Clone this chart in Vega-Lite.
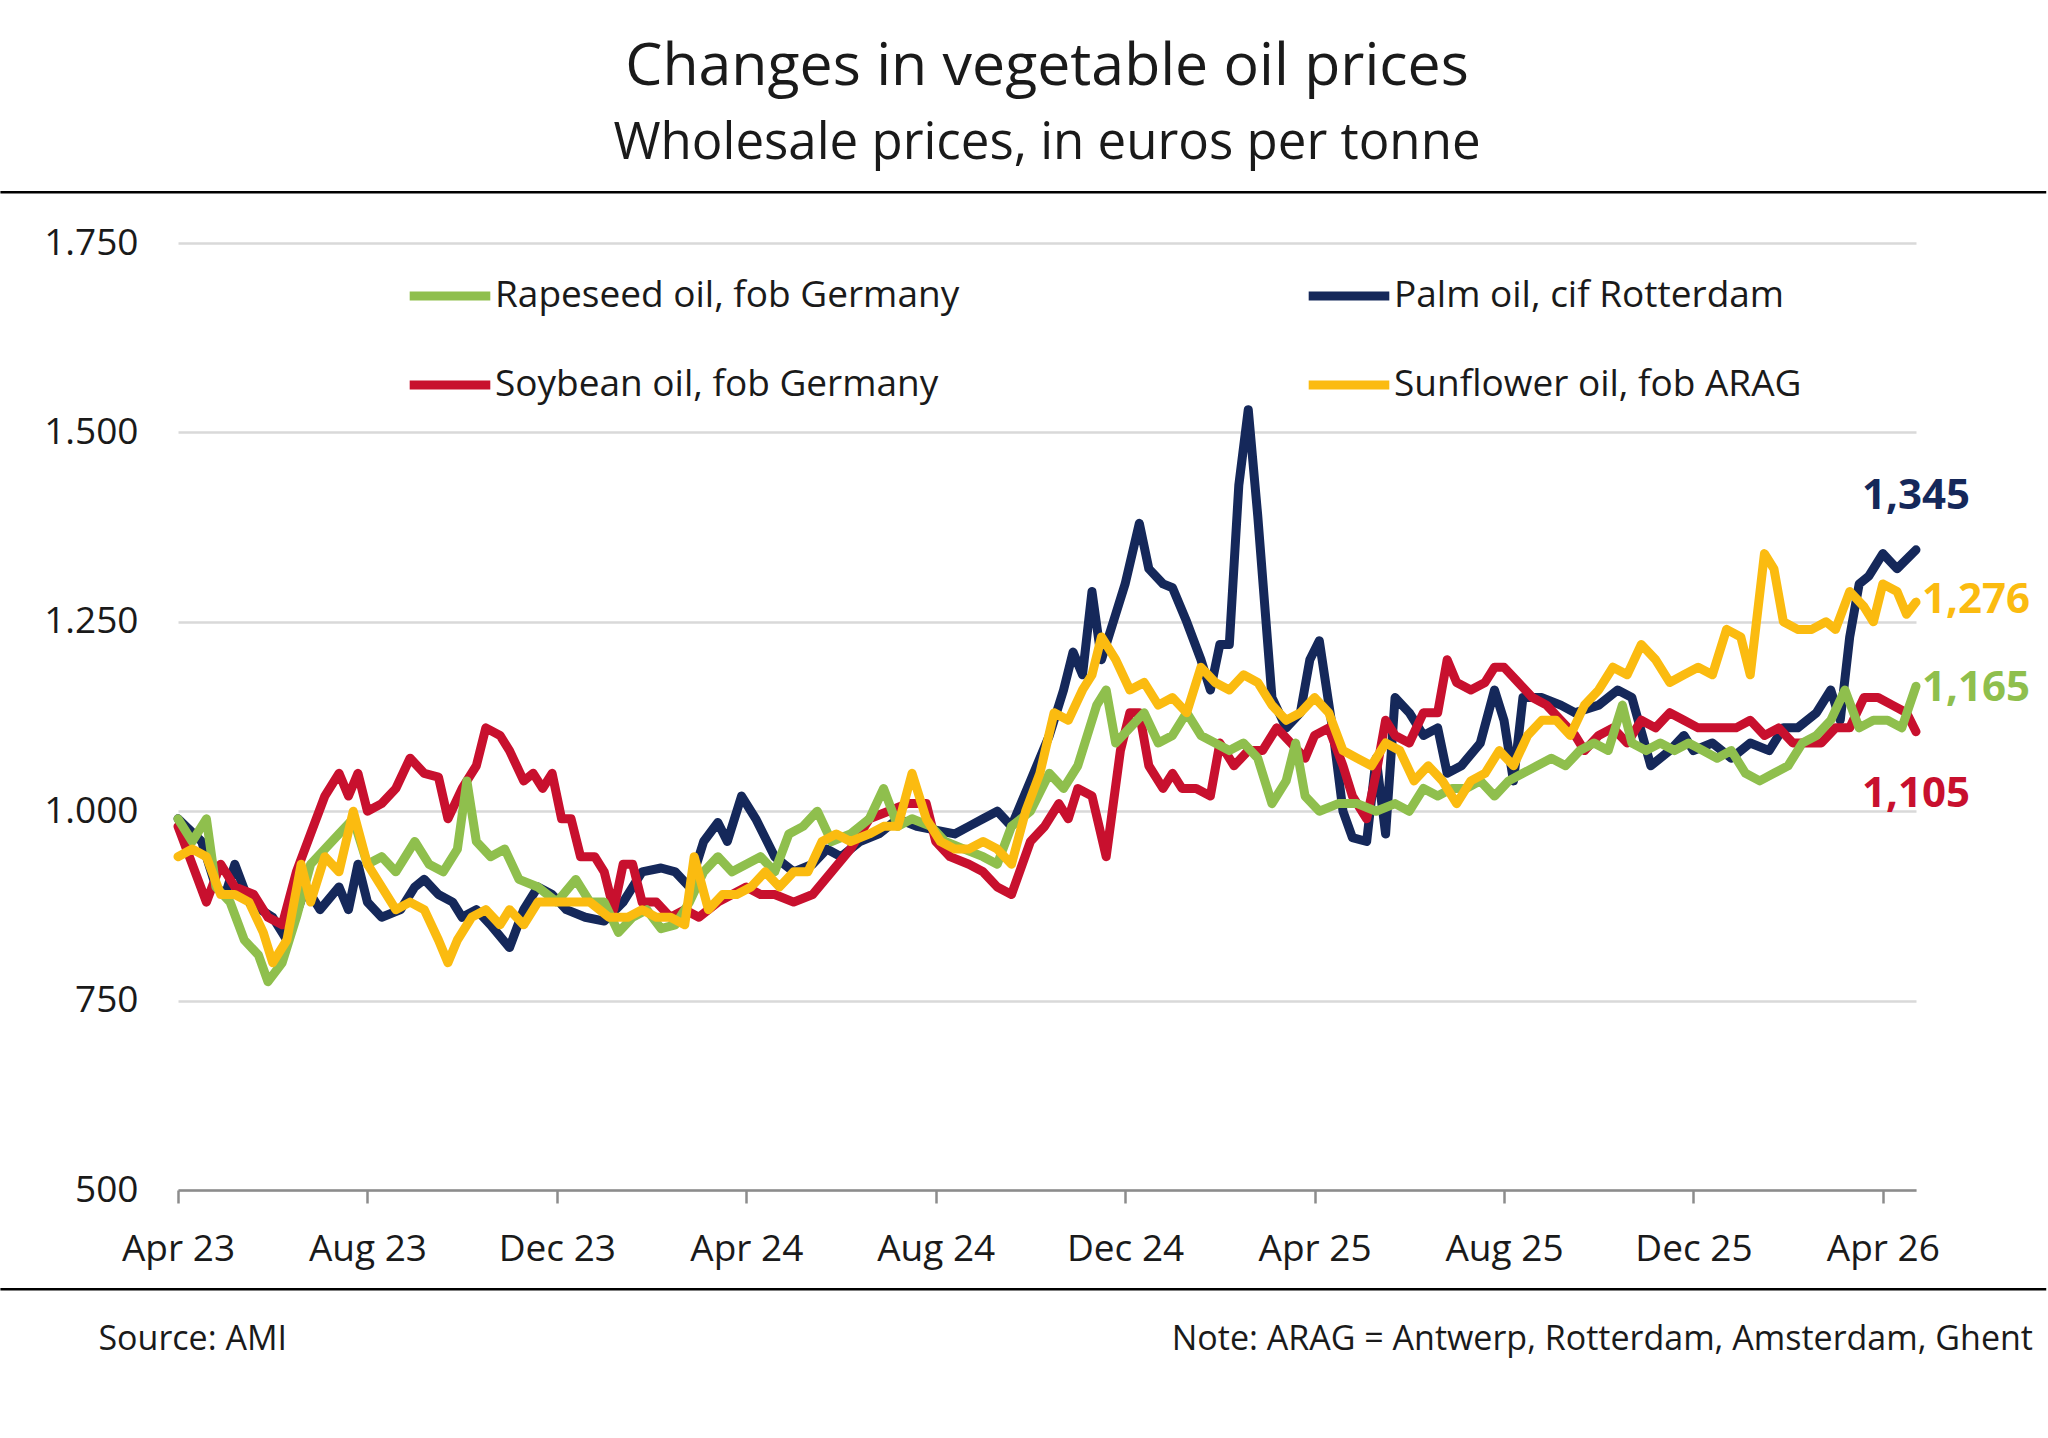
{
  "$schema": "https://vega.github.io/schema/vega-lite/v6.json",
  "width": 1738,
  "height": 947,
  "autosize": "none",
  "padding": {"left": 178, "top": 243, "right": 132, "bottom": 248},
  "background": "white",
  "config": {
    "font": "Open Sans",
    "view": {"stroke": null},
    "axis": {"labelFont": "Open Sans", "labelFontSize": 37, "labelColor": "#1a1a1a"}
  },
  "title": {
    "text": "Changes in vegetable oil prices",
    "subtitle": "Wholesale prices, in euros per tonne",
    "fontSize": 59,
    "fontWeight": "normal",
    "color": "#1a1a1a",
    "subtitleFontSize": 51,
    "subtitleColor": "#1a1a1a",
    "subtitlePadding": 22,
    "offset": 22,
    "anchor": "middle"
  },
  "datasets": {
    "prices": [
      {"s":"Palm oil, cif Rotterdam","m":0,"v":990},{"s":"Palm oil, cif Rotterdam","m":0.5,"v":960},{"s":"Palm oil, cif Rotterdam","m":0.8,"v":900},{"s":"Palm oil, cif Rotterdam","m":1,"v":890},{"s":"Palm oil, cif Rotterdam","m":1.2,"v":930},{"s":"Palm oil, cif Rotterdam","m":1.5,"v":880},{"s":"Palm oil, cif Rotterdam","m":2,"v":860},{"s":"Palm oil, cif Rotterdam","m":2.3,"v":830},{"s":"Palm oil, cif Rotterdam","m":2.7,"v":900},{"s":"Palm oil, cif Rotterdam","m":3,"v":870},{"s":"Palm oil, cif Rotterdam","m":3.4,"v":900},{"s":"Palm oil, cif Rotterdam","m":3.6,"v":870},{"s":"Palm oil, cif Rotterdam","m":3.8,"v":930},{"s":"Palm oil, cif Rotterdam","m":4,"v":880},{"s":"Palm oil, cif Rotterdam","m":4.3,"v":860},{"s":"Palm oil, cif Rotterdam","m":4.7,"v":870},{"s":"Palm oil, cif Rotterdam","m":5,"v":900},{"s":"Palm oil, cif Rotterdam","m":5.2,"v":910},{"s":"Palm oil, cif Rotterdam","m":5.5,"v":890},{"s":"Palm oil, cif Rotterdam","m":5.8,"v":880},{"s":"Palm oil, cif Rotterdam","m":6,"v":860},{"s":"Palm oil, cif Rotterdam","m":6.3,"v":870},{"s":"Palm oil, cif Rotterdam","m":6.6,"v":850},{"s":"Palm oil, cif Rotterdam","m":7,"v":820},{"s":"Palm oil, cif Rotterdam","m":7.3,"v":870},{"s":"Palm oil, cif Rotterdam","m":7.6,"v":900},{"s":"Palm oil, cif Rotterdam","m":7.9,"v":890},{"s":"Palm oil, cif Rotterdam","m":8.2,"v":870},{"s":"Palm oil, cif Rotterdam","m":8.6,"v":860},{"s":"Palm oil, cif Rotterdam","m":9,"v":855},{"s":"Palm oil, cif Rotterdam","m":9.4,"v":880},{"s":"Palm oil, cif Rotterdam","m":9.8,"v":920},{"s":"Palm oil, cif Rotterdam","m":10.2,"v":925},{"s":"Palm oil, cif Rotterdam","m":10.5,"v":920},{"s":"Palm oil, cif Rotterdam","m":10.8,"v":900},{"s":"Palm oil, cif Rotterdam","m":11.1,"v":960},{"s":"Palm oil, cif Rotterdam","m":11.4,"v":985},{"s":"Palm oil, cif Rotterdam","m":11.6,"v":960},{"s":"Palm oil, cif Rotterdam","m":11.9,"v":1020},{"s":"Palm oil, cif Rotterdam","m":12.2,"v":990},{"s":"Palm oil, cif Rotterdam","m":12.6,"v":940},{"s":"Palm oil, cif Rotterdam","m":13,"v":920},{"s":"Palm oil, cif Rotterdam","m":13.4,"v":930},{"s":"Palm oil, cif Rotterdam","m":13.7,"v":950},{"s":"Palm oil, cif Rotterdam","m":14,"v":940},{"s":"Palm oil, cif Rotterdam","m":14.4,"v":960},{"s":"Palm oil, cif Rotterdam","m":14.8,"v":970},{"s":"Palm oil, cif Rotterdam","m":15.2,"v":990},{"s":"Palm oil, cif Rotterdam","m":15.6,"v":980},{"s":"Palm oil, cif Rotterdam","m":16,"v":975},{"s":"Palm oil, cif Rotterdam","m":16.4,"v":970},{"s":"Palm oil, cif Rotterdam","m":16.7,"v":980},{"s":"Palm oil, cif Rotterdam","m":17,"v":990},{"s":"Palm oil, cif Rotterdam","m":17.3,"v":1000},{"s":"Palm oil, cif Rotterdam","m":17.6,"v":980},{"s":"Palm oil, cif Rotterdam","m":18,"v":1040},{"s":"Palm oil, cif Rotterdam","m":18.4,"v":1100},{"s":"Palm oil, cif Rotterdam","m":18.7,"v":1160},{"s":"Palm oil, cif Rotterdam","m":18.9,"v":1210},{"s":"Palm oil, cif Rotterdam","m":19.1,"v":1180},{"s":"Palm oil, cif Rotterdam","m":19.3,"v":1290},{"s":"Palm oil, cif Rotterdam","m":19.5,"v":1200},{"s":"Palm oil, cif Rotterdam","m":19.8,"v":1260},{"s":"Palm oil, cif Rotterdam","m":20,"v":1300},{"s":"Palm oil, cif Rotterdam","m":20.3,"v":1380},{"s":"Palm oil, cif Rotterdam","m":20.5,"v":1320},{"s":"Palm oil, cif Rotterdam","m":20.8,"v":1300},{"s":"Palm oil, cif Rotterdam","m":21,"v":1295},{"s":"Palm oil, cif Rotterdam","m":21.3,"v":1250},{"s":"Palm oil, cif Rotterdam","m":21.6,"v":1200},{"s":"Palm oil, cif Rotterdam","m":21.8,"v":1160},{"s":"Palm oil, cif Rotterdam","m":22,"v":1220},{"s":"Palm oil, cif Rotterdam","m":22.2,"v":1220},{"s":"Palm oil, cif Rotterdam","m":22.4,"v":1430},{"s":"Palm oil, cif Rotterdam","m":22.6,"v":1530},{"s":"Palm oil, cif Rotterdam","m":22.8,"v":1390},{"s":"Palm oil, cif Rotterdam","m":23.1,"v":1150},{"s":"Palm oil, cif Rotterdam","m":23.4,"v":1110},{"s":"Palm oil, cif Rotterdam","m":23.7,"v":1130},{"s":"Palm oil, cif Rotterdam","m":23.9,"v":1200},{"s":"Palm oil, cif Rotterdam","m":24.1,"v":1225},{"s":"Palm oil, cif Rotterdam","m":24.4,"v":1100},{"s":"Palm oil, cif Rotterdam","m":24.6,"v":1000},{"s":"Palm oil, cif Rotterdam","m":24.8,"v":965},{"s":"Palm oil, cif Rotterdam","m":25.1,"v":960},{"s":"Palm oil, cif Rotterdam","m":25.3,"v":1070},{"s":"Palm oil, cif Rotterdam","m":25.5,"v":970},{"s":"Palm oil, cif Rotterdam","m":25.7,"v":1150},{"s":"Palm oil, cif Rotterdam","m":26,"v":1130},{"s":"Palm oil, cif Rotterdam","m":26.3,"v":1100},{"s":"Palm oil, cif Rotterdam","m":26.6,"v":1110},{"s":"Palm oil, cif Rotterdam","m":26.8,"v":1050},{"s":"Palm oil, cif Rotterdam","m":27.1,"v":1060},{"s":"Palm oil, cif Rotterdam","m":27.5,"v":1090},{"s":"Palm oil, cif Rotterdam","m":27.8,"v":1160},{"s":"Palm oil, cif Rotterdam","m":28,"v":1120},{"s":"Palm oil, cif Rotterdam","m":28.2,"v":1040},{"s":"Palm oil, cif Rotterdam","m":28.4,"v":1150},{"s":"Palm oil, cif Rotterdam","m":28.8,"v":1150},{"s":"Palm oil, cif Rotterdam","m":29.2,"v":1140},{"s":"Palm oil, cif Rotterdam","m":29.5,"v":1130},{"s":"Palm oil, cif Rotterdam","m":30,"v":1140},{"s":"Palm oil, cif Rotterdam","m":30.4,"v":1160},{"s":"Palm oil, cif Rotterdam","m":30.7,"v":1150},{"s":"Palm oil, cif Rotterdam","m":31.1,"v":1060},{"s":"Palm oil, cif Rotterdam","m":31.5,"v":1080},{"s":"Palm oil, cif Rotterdam","m":31.8,"v":1100},{"s":"Palm oil, cif Rotterdam","m":32,"v":1080},{"s":"Palm oil, cif Rotterdam","m":32.4,"v":1090},{"s":"Palm oil, cif Rotterdam","m":32.8,"v":1070},{"s":"Palm oil, cif Rotterdam","m":33.2,"v":1090},{"s":"Palm oil, cif Rotterdam","m":33.6,"v":1080},{"s":"Palm oil, cif Rotterdam","m":33.9,"v":1110},{"s":"Palm oil, cif Rotterdam","m":34.2,"v":1110},{"s":"Palm oil, cif Rotterdam","m":34.6,"v":1130},{"s":"Palm oil, cif Rotterdam","m":34.9,"v":1160},{"s":"Palm oil, cif Rotterdam","m":35.1,"v":1120},{"s":"Palm oil, cif Rotterdam","m":35.3,"v":1230},{"s":"Palm oil, cif Rotterdam","m":35.5,"v":1300},{"s":"Palm oil, cif Rotterdam","m":35.7,"v":1310},{"s":"Palm oil, cif Rotterdam","m":36,"v":1340},{"s":"Palm oil, cif Rotterdam","m":36.3,"v":1320},{"s":"Palm oil, cif Rotterdam","m":36.7,"v":1345},

      {"s":"Soybean oil, fob Germany","m":0,"v":980},{"s":"Soybean oil, fob Germany","m":0.3,"v":930},{"s":"Soybean oil, fob Germany","m":0.6,"v":880},{"s":"Soybean oil, fob Germany","m":0.9,"v":930},{"s":"Soybean oil, fob Germany","m":1.2,"v":900},{"s":"Soybean oil, fob Germany","m":1.6,"v":890},{"s":"Soybean oil, fob Germany","m":1.9,"v":860},{"s":"Soybean oil, fob Germany","m":2.2,"v":850},{"s":"Soybean oil, fob Germany","m":2.5,"v":920},{"s":"Soybean oil, fob Germany","m":2.8,"v":970},{"s":"Soybean oil, fob Germany","m":3.1,"v":1020},{"s":"Soybean oil, fob Germany","m":3.4,"v":1050},{"s":"Soybean oil, fob Germany","m":3.6,"v":1020},{"s":"Soybean oil, fob Germany","m":3.8,"v":1050},{"s":"Soybean oil, fob Germany","m":4,"v":1000},{"s":"Soybean oil, fob Germany","m":4.3,"v":1010},{"s":"Soybean oil, fob Germany","m":4.6,"v":1030},{"s":"Soybean oil, fob Germany","m":4.9,"v":1070},{"s":"Soybean oil, fob Germany","m":5.2,"v":1050},{"s":"Soybean oil, fob Germany","m":5.5,"v":1045},{"s":"Soybean oil, fob Germany","m":5.7,"v":990},{"s":"Soybean oil, fob Germany","m":6,"v":1030},{"s":"Soybean oil, fob Germany","m":6.3,"v":1060},{"s":"Soybean oil, fob Germany","m":6.5,"v":1110},{"s":"Soybean oil, fob Germany","m":6.8,"v":1100},{"s":"Soybean oil, fob Germany","m":7,"v":1080},{"s":"Soybean oil, fob Germany","m":7.3,"v":1040},{"s":"Soybean oil, fob Germany","m":7.5,"v":1050},{"s":"Soybean oil, fob Germany","m":7.7,"v":1030},{"s":"Soybean oil, fob Germany","m":7.9,"v":1050},{"s":"Soybean oil, fob Germany","m":8.1,"v":990},{"s":"Soybean oil, fob Germany","m":8.3,"v":990},{"s":"Soybean oil, fob Germany","m":8.5,"v":940},{"s":"Soybean oil, fob Germany","m":8.8,"v":940},{"s":"Soybean oil, fob Germany","m":9,"v":920},{"s":"Soybean oil, fob Germany","m":9.2,"v":870},{"s":"Soybean oil, fob Germany","m":9.4,"v":930},{"s":"Soybean oil, fob Germany","m":9.6,"v":930},{"s":"Soybean oil, fob Germany","m":9.8,"v":880},{"s":"Soybean oil, fob Germany","m":10.1,"v":880},{"s":"Soybean oil, fob Germany","m":10.4,"v":860},{"s":"Soybean oil, fob Germany","m":10.7,"v":870},{"s":"Soybean oil, fob Germany","m":11,"v":860},{"s":"Soybean oil, fob Germany","m":11.4,"v":880},{"s":"Soybean oil, fob Germany","m":11.7,"v":890},{"s":"Soybean oil, fob Germany","m":12,"v":900},{"s":"Soybean oil, fob Germany","m":12.3,"v":890},{"s":"Soybean oil, fob Germany","m":12.6,"v":890},{"s":"Soybean oil, fob Germany","m":13,"v":880},{"s":"Soybean oil, fob Germany","m":13.4,"v":890},{"s":"Soybean oil, fob Germany","m":13.8,"v":920},{"s":"Soybean oil, fob Germany","m":14.2,"v":950},{"s":"Soybean oil, fob Germany","m":14.6,"v":990},{"s":"Soybean oil, fob Germany","m":15,"v":1000},{"s":"Soybean oil, fob Germany","m":15.4,"v":1010},{"s":"Soybean oil, fob Germany","m":15.8,"v":1010},{"s":"Soybean oil, fob Germany","m":16,"v":960},{"s":"Soybean oil, fob Germany","m":16.3,"v":940},{"s":"Soybean oil, fob Germany","m":16.7,"v":930},{"s":"Soybean oil, fob Germany","m":17,"v":920},{"s":"Soybean oil, fob Germany","m":17.3,"v":900},{"s":"Soybean oil, fob Germany","m":17.6,"v":890},{"s":"Soybean oil, fob Germany","m":18,"v":960},{"s":"Soybean oil, fob Germany","m":18.3,"v":980},{"s":"Soybean oil, fob Germany","m":18.6,"v":1010},{"s":"Soybean oil, fob Germany","m":18.8,"v":990},{"s":"Soybean oil, fob Germany","m":19,"v":1030},{"s":"Soybean oil, fob Germany","m":19.3,"v":1020},{"s":"Soybean oil, fob Germany","m":19.6,"v":940},{"s":"Soybean oil, fob Germany","m":19.9,"v":1080},{"s":"Soybean oil, fob Germany","m":20.1,"v":1130},{"s":"Soybean oil, fob Germany","m":20.3,"v":1130},{"s":"Soybean oil, fob Germany","m":20.5,"v":1060},{"s":"Soybean oil, fob Germany","m":20.8,"v":1030},{"s":"Soybean oil, fob Germany","m":21,"v":1050},{"s":"Soybean oil, fob Germany","m":21.2,"v":1030},{"s":"Soybean oil, fob Germany","m":21.5,"v":1030},{"s":"Soybean oil, fob Germany","m":21.8,"v":1020},{"s":"Soybean oil, fob Germany","m":22,"v":1090},{"s":"Soybean oil, fob Germany","m":22.3,"v":1060},{"s":"Soybean oil, fob Germany","m":22.6,"v":1080},{"s":"Soybean oil, fob Germany","m":22.9,"v":1080},{"s":"Soybean oil, fob Germany","m":23.2,"v":1110},{"s":"Soybean oil, fob Germany","m":23.5,"v":1090},{"s":"Soybean oil, fob Germany","m":23.8,"v":1070},{"s":"Soybean oil, fob Germany","m":24,"v":1100},{"s":"Soybean oil, fob Germany","m":24.3,"v":1110},{"s":"Soybean oil, fob Germany","m":24.6,"v":1060},{"s":"Soybean oil, fob Germany","m":24.8,"v":1020},{"s":"Soybean oil, fob Germany","m":25.1,"v":990},{"s":"Soybean oil, fob Germany","m":25.3,"v":1050},{"s":"Soybean oil, fob Germany","m":25.5,"v":1120},{"s":"Soybean oil, fob Germany","m":25.7,"v":1100},{"s":"Soybean oil, fob Germany","m":26,"v":1090},{"s":"Soybean oil, fob Germany","m":26.3,"v":1130},{"s":"Soybean oil, fob Germany","m":26.6,"v":1130},{"s":"Soybean oil, fob Germany","m":26.8,"v":1200},{"s":"Soybean oil, fob Germany","m":27,"v":1170},{"s":"Soybean oil, fob Germany","m":27.3,"v":1160},{"s":"Soybean oil, fob Germany","m":27.6,"v":1170},{"s":"Soybean oil, fob Germany","m":27.8,"v":1190},{"s":"Soybean oil, fob Germany","m":28,"v":1190},{"s":"Soybean oil, fob Germany","m":28.3,"v":1170},{"s":"Soybean oil, fob Germany","m":28.6,"v":1150},{"s":"Soybean oil, fob Germany","m":28.9,"v":1140},{"s":"Soybean oil, fob Germany","m":29.2,"v":1120},{"s":"Soybean oil, fob Germany","m":29.5,"v":1100},{"s":"Soybean oil, fob Germany","m":29.7,"v":1080},{"s":"Soybean oil, fob Germany","m":30,"v":1100},{"s":"Soybean oil, fob Germany","m":30.3,"v":1110},{"s":"Soybean oil, fob Germany","m":30.6,"v":1090},{"s":"Soybean oil, fob Germany","m":30.9,"v":1120},{"s":"Soybean oil, fob Germany","m":31.2,"v":1110},{"s":"Soybean oil, fob Germany","m":31.5,"v":1130},{"s":"Soybean oil, fob Germany","m":31.8,"v":1120},{"s":"Soybean oil, fob Germany","m":32.1,"v":1110},{"s":"Soybean oil, fob Germany","m":32.5,"v":1110},{"s":"Soybean oil, fob Germany","m":32.9,"v":1110},{"s":"Soybean oil, fob Germany","m":33.2,"v":1120},{"s":"Soybean oil, fob Germany","m":33.5,"v":1100},{"s":"Soybean oil, fob Germany","m":33.8,"v":1110},{"s":"Soybean oil, fob Germany","m":34.1,"v":1090},{"s":"Soybean oil, fob Germany","m":34.4,"v":1090},{"s":"Soybean oil, fob Germany","m":34.7,"v":1090},{"s":"Soybean oil, fob Germany","m":35,"v":1110},{"s":"Soybean oil, fob Germany","m":35.3,"v":1110},{"s":"Soybean oil, fob Germany","m":35.6,"v":1150},{"s":"Soybean oil, fob Germany","m":35.9,"v":1150},{"s":"Soybean oil, fob Germany","m":36.2,"v":1140},{"s":"Soybean oil, fob Germany","m":36.5,"v":1130},{"s":"Soybean oil, fob Germany","m":36.7,"v":1105},

      {"s":"Rapeseed oil, fob Germany","m":0,"v":990},{"s":"Rapeseed oil, fob Germany","m":0.3,"v":960},{"s":"Rapeseed oil, fob Germany","m":0.6,"v":990},{"s":"Rapeseed oil, fob Germany","m":0.8,"v":900},{"s":"Rapeseed oil, fob Germany","m":1.1,"v":880},{"s":"Rapeseed oil, fob Germany","m":1.4,"v":830},{"s":"Rapeseed oil, fob Germany","m":1.7,"v":810},{"s":"Rapeseed oil, fob Germany","m":1.9,"v":775},{"s":"Rapeseed oil, fob Germany","m":2.2,"v":800},{"s":"Rapeseed oil, fob Germany","m":2.5,"v":860},{"s":"Rapeseed oil, fob Germany","m":2.8,"v":930},{"s":"Rapeseed oil, fob Germany","m":3.1,"v":950},{"s":"Rapeseed oil, fob Germany","m":3.4,"v":970},{"s":"Rapeseed oil, fob Germany","m":3.7,"v":990},{"s":"Rapeseed oil, fob Germany","m":4,"v":930},{"s":"Rapeseed oil, fob Germany","m":4.3,"v":940},{"s":"Rapeseed oil, fob Germany","m":4.6,"v":920},{"s":"Rapeseed oil, fob Germany","m":5,"v":960},{"s":"Rapeseed oil, fob Germany","m":5.3,"v":930},{"s":"Rapeseed oil, fob Germany","m":5.6,"v":920},{"s":"Rapeseed oil, fob Germany","m":5.9,"v":950},{"s":"Rapeseed oil, fob Germany","m":6.1,"v":1040},{"s":"Rapeseed oil, fob Germany","m":6.3,"v":960},{"s":"Rapeseed oil, fob Germany","m":6.6,"v":940},{"s":"Rapeseed oil, fob Germany","m":6.9,"v":950},{"s":"Rapeseed oil, fob Germany","m":7.2,"v":910},{"s":"Rapeseed oil, fob Germany","m":7.6,"v":900},{"s":"Rapeseed oil, fob Germany","m":8,"v":880},{"s":"Rapeseed oil, fob Germany","m":8.4,"v":910},{"s":"Rapeseed oil, fob Germany","m":8.7,"v":880},{"s":"Rapeseed oil, fob Germany","m":9,"v":880},{"s":"Rapeseed oil, fob Germany","m":9.3,"v":840},{"s":"Rapeseed oil, fob Germany","m":9.6,"v":860},{"s":"Rapeseed oil, fob Germany","m":9.9,"v":870},{"s":"Rapeseed oil, fob Germany","m":10.2,"v":845},{"s":"Rapeseed oil, fob Germany","m":10.5,"v":850},{"s":"Rapeseed oil, fob Germany","m":10.8,"v":880},{"s":"Rapeseed oil, fob Germany","m":11.1,"v":920},{"s":"Rapeseed oil, fob Germany","m":11.4,"v":940},{"s":"Rapeseed oil, fob Germany","m":11.7,"v":920},{"s":"Rapeseed oil, fob Germany","m":12,"v":930},{"s":"Rapeseed oil, fob Germany","m":12.3,"v":940},{"s":"Rapeseed oil, fob Germany","m":12.6,"v":920},{"s":"Rapeseed oil, fob Germany","m":12.9,"v":970},{"s":"Rapeseed oil, fob Germany","m":13.2,"v":980},{"s":"Rapeseed oil, fob Germany","m":13.5,"v":1000},{"s":"Rapeseed oil, fob Germany","m":13.8,"v":960},{"s":"Rapeseed oil, fob Germany","m":14.2,"v":970},{"s":"Rapeseed oil, fob Germany","m":14.6,"v":990},{"s":"Rapeseed oil, fob Germany","m":14.9,"v":1030},{"s":"Rapeseed oil, fob Germany","m":15.2,"v":980},{"s":"Rapeseed oil, fob Germany","m":15.5,"v":990},{"s":"Rapeseed oil, fob Germany","m":15.9,"v":980},{"s":"Rapeseed oil, fob Germany","m":16.2,"v":960},{"s":"Rapeseed oil, fob Germany","m":16.6,"v":950},{"s":"Rapeseed oil, fob Germany","m":17,"v":940},{"s":"Rapeseed oil, fob Germany","m":17.3,"v":930},{"s":"Rapeseed oil, fob Germany","m":17.6,"v":980},{"s":"Rapeseed oil, fob Germany","m":18,"v":1000},{"s":"Rapeseed oil, fob Germany","m":18.4,"v":1050},{"s":"Rapeseed oil, fob Germany","m":18.7,"v":1030},{"s":"Rapeseed oil, fob Germany","m":19,"v":1060},{"s":"Rapeseed oil, fob Germany","m":19.4,"v":1140},{"s":"Rapeseed oil, fob Germany","m":19.6,"v":1160},{"s":"Rapeseed oil, fob Germany","m":19.8,"v":1090},{"s":"Rapeseed oil, fob Germany","m":20.1,"v":1110},{"s":"Rapeseed oil, fob Germany","m":20.4,"v":1130},{"s":"Rapeseed oil, fob Germany","m":20.7,"v":1090},{"s":"Rapeseed oil, fob Germany","m":21,"v":1100},{"s":"Rapeseed oil, fob Germany","m":21.3,"v":1130},{"s":"Rapeseed oil, fob Germany","m":21.6,"v":1100},{"s":"Rapeseed oil, fob Germany","m":21.9,"v":1090},{"s":"Rapeseed oil, fob Germany","m":22.2,"v":1080},{"s":"Rapeseed oil, fob Germany","m":22.5,"v":1090},{"s":"Rapeseed oil, fob Germany","m":22.8,"v":1070},{"s":"Rapeseed oil, fob Germany","m":23.1,"v":1010},{"s":"Rapeseed oil, fob Germany","m":23.4,"v":1040},{"s":"Rapeseed oil, fob Germany","m":23.6,"v":1090},{"s":"Rapeseed oil, fob Germany","m":23.8,"v":1020},{"s":"Rapeseed oil, fob Germany","m":24.1,"v":1000},{"s":"Rapeseed oil, fob Germany","m":24.5,"v":1010},{"s":"Rapeseed oil, fob Germany","m":24.9,"v":1010},{"s":"Rapeseed oil, fob Germany","m":25.3,"v":1000},{"s":"Rapeseed oil, fob Germany","m":25.7,"v":1010},{"s":"Rapeseed oil, fob Germany","m":26,"v":1000},{"s":"Rapeseed oil, fob Germany","m":26.3,"v":1030},{"s":"Rapeseed oil, fob Germany","m":26.6,"v":1020},{"s":"Rapeseed oil, fob Germany","m":26.9,"v":1030},{"s":"Rapeseed oil, fob Germany","m":27.2,"v":1030},{"s":"Rapeseed oil, fob Germany","m":27.5,"v":1040},{"s":"Rapeseed oil, fob Germany","m":27.8,"v":1020},{"s":"Rapeseed oil, fob Germany","m":28.1,"v":1040},{"s":"Rapeseed oil, fob Germany","m":28.4,"v":1050},{"s":"Rapeseed oil, fob Germany","m":28.7,"v":1060},{"s":"Rapeseed oil, fob Germany","m":29,"v":1070},{"s":"Rapeseed oil, fob Germany","m":29.3,"v":1060},{"s":"Rapeseed oil, fob Germany","m":29.6,"v":1080},{"s":"Rapeseed oil, fob Germany","m":29.9,"v":1090},{"s":"Rapeseed oil, fob Germany","m":30.2,"v":1080},{"s":"Rapeseed oil, fob Germany","m":30.5,"v":1140},{"s":"Rapeseed oil, fob Germany","m":30.7,"v":1090},{"s":"Rapeseed oil, fob Germany","m":31,"v":1080},{"s":"Rapeseed oil, fob Germany","m":31.3,"v":1090},{"s":"Rapeseed oil, fob Germany","m":31.6,"v":1080},{"s":"Rapeseed oil, fob Germany","m":31.9,"v":1090},{"s":"Rapeseed oil, fob Germany","m":32.2,"v":1080},{"s":"Rapeseed oil, fob Germany","m":32.5,"v":1070},{"s":"Rapeseed oil, fob Germany","m":32.8,"v":1080},{"s":"Rapeseed oil, fob Germany","m":33.1,"v":1050},{"s":"Rapeseed oil, fob Germany","m":33.4,"v":1040},{"s":"Rapeseed oil, fob Germany","m":33.7,"v":1050},{"s":"Rapeseed oil, fob Germany","m":34,"v":1060},{"s":"Rapeseed oil, fob Germany","m":34.3,"v":1090},{"s":"Rapeseed oil, fob Germany","m":34.6,"v":1100},{"s":"Rapeseed oil, fob Germany","m":34.9,"v":1120},{"s":"Rapeseed oil, fob Germany","m":35.2,"v":1160},{"s":"Rapeseed oil, fob Germany","m":35.5,"v":1110},{"s":"Rapeseed oil, fob Germany","m":35.8,"v":1120},{"s":"Rapeseed oil, fob Germany","m":36.1,"v":1120},{"s":"Rapeseed oil, fob Germany","m":36.4,"v":1110},{"s":"Rapeseed oil, fob Germany","m":36.7,"v":1165},

      {"s":"Sunflower oil, fob ARAG","m":0,"v":940},{"s":"Sunflower oil, fob ARAG","m":0.3,"v":950},{"s":"Sunflower oil, fob ARAG","m":0.6,"v":940},{"s":"Sunflower oil, fob ARAG","m":0.9,"v":890},{"s":"Sunflower oil, fob ARAG","m":1.2,"v":890},{"s":"Sunflower oil, fob ARAG","m":1.5,"v":880},{"s":"Sunflower oil, fob ARAG","m":1.8,"v":840},{"s":"Sunflower oil, fob ARAG","m":2,"v":800},{"s":"Sunflower oil, fob ARAG","m":2.3,"v":830},{"s":"Sunflower oil, fob ARAG","m":2.6,"v":930},{"s":"Sunflower oil, fob ARAG","m":2.8,"v":880},{"s":"Sunflower oil, fob ARAG","m":3.1,"v":940},{"s":"Sunflower oil, fob ARAG","m":3.4,"v":920},{"s":"Sunflower oil, fob ARAG","m":3.7,"v":1000},{"s":"Sunflower oil, fob ARAG","m":4,"v":930},{"s":"Sunflower oil, fob ARAG","m":4.3,"v":900},{"s":"Sunflower oil, fob ARAG","m":4.6,"v":870},{"s":"Sunflower oil, fob ARAG","m":4.9,"v":880},{"s":"Sunflower oil, fob ARAG","m":5.2,"v":870},{"s":"Sunflower oil, fob ARAG","m":5.5,"v":830},{"s":"Sunflower oil, fob ARAG","m":5.7,"v":800},{"s":"Sunflower oil, fob ARAG","m":5.9,"v":830},{"s":"Sunflower oil, fob ARAG","m":6.2,"v":860},{"s":"Sunflower oil, fob ARAG","m":6.5,"v":870},{"s":"Sunflower oil, fob ARAG","m":6.8,"v":850},{"s":"Sunflower oil, fob ARAG","m":7,"v":870},{"s":"Sunflower oil, fob ARAG","m":7.3,"v":850},{"s":"Sunflower oil, fob ARAG","m":7.6,"v":880},{"s":"Sunflower oil, fob ARAG","m":7.9,"v":880},{"s":"Sunflower oil, fob ARAG","m":8.3,"v":880},{"s":"Sunflower oil, fob ARAG","m":8.7,"v":880},{"s":"Sunflower oil, fob ARAG","m":9.1,"v":860},{"s":"Sunflower oil, fob ARAG","m":9.5,"v":860},{"s":"Sunflower oil, fob ARAG","m":9.8,"v":870},{"s":"Sunflower oil, fob ARAG","m":10.1,"v":860},{"s":"Sunflower oil, fob ARAG","m":10.4,"v":860},{"s":"Sunflower oil, fob ARAG","m":10.7,"v":850},{"s":"Sunflower oil, fob ARAG","m":10.9,"v":940},{"s":"Sunflower oil, fob ARAG","m":11.2,"v":870},{"s":"Sunflower oil, fob ARAG","m":11.5,"v":890},{"s":"Sunflower oil, fob ARAG","m":11.8,"v":890},{"s":"Sunflower oil, fob ARAG","m":12.1,"v":900},{"s":"Sunflower oil, fob ARAG","m":12.4,"v":920},{"s":"Sunflower oil, fob ARAG","m":12.7,"v":900},{"s":"Sunflower oil, fob ARAG","m":13,"v":920},{"s":"Sunflower oil, fob ARAG","m":13.3,"v":920},{"s":"Sunflower oil, fob ARAG","m":13.6,"v":960},{"s":"Sunflower oil, fob ARAG","m":13.9,"v":970},{"s":"Sunflower oil, fob ARAG","m":14.2,"v":960},{"s":"Sunflower oil, fob ARAG","m":14.6,"v":970},{"s":"Sunflower oil, fob ARAG","m":14.9,"v":980},{"s":"Sunflower oil, fob ARAG","m":15.2,"v":980},{"s":"Sunflower oil, fob ARAG","m":15.5,"v":1050},{"s":"Sunflower oil, fob ARAG","m":15.8,"v":990},{"s":"Sunflower oil, fob ARAG","m":16.1,"v":960},{"s":"Sunflower oil, fob ARAG","m":16.4,"v":950},{"s":"Sunflower oil, fob ARAG","m":16.7,"v":950},{"s":"Sunflower oil, fob ARAG","m":17,"v":960},{"s":"Sunflower oil, fob ARAG","m":17.3,"v":950},{"s":"Sunflower oil, fob ARAG","m":17.6,"v":930},{"s":"Sunflower oil, fob ARAG","m":17.9,"v":1000},{"s":"Sunflower oil, fob ARAG","m":18.2,"v":1050},{"s":"Sunflower oil, fob ARAG","m":18.5,"v":1130},{"s":"Sunflower oil, fob ARAG","m":18.8,"v":1120},{"s":"Sunflower oil, fob ARAG","m":19.1,"v":1160},{"s":"Sunflower oil, fob ARAG","m":19.3,"v":1180},{"s":"Sunflower oil, fob ARAG","m":19.5,"v":1230},{"s":"Sunflower oil, fob ARAG","m":19.8,"v":1200},{"s":"Sunflower oil, fob ARAG","m":20.1,"v":1160},{"s":"Sunflower oil, fob ARAG","m":20.4,"v":1170},{"s":"Sunflower oil, fob ARAG","m":20.7,"v":1140},{"s":"Sunflower oil, fob ARAG","m":21,"v":1150},{"s":"Sunflower oil, fob ARAG","m":21.3,"v":1130},{"s":"Sunflower oil, fob ARAG","m":21.6,"v":1190},{"s":"Sunflower oil, fob ARAG","m":21.9,"v":1170},{"s":"Sunflower oil, fob ARAG","m":22.2,"v":1160},{"s":"Sunflower oil, fob ARAG","m":22.5,"v":1180},{"s":"Sunflower oil, fob ARAG","m":22.8,"v":1170},{"s":"Sunflower oil, fob ARAG","m":23.1,"v":1140},{"s":"Sunflower oil, fob ARAG","m":23.4,"v":1120},{"s":"Sunflower oil, fob ARAG","m":23.7,"v":1130},{"s":"Sunflower oil, fob ARAG","m":24,"v":1150},{"s":"Sunflower oil, fob ARAG","m":24.3,"v":1130},{"s":"Sunflower oil, fob ARAG","m":24.6,"v":1080},{"s":"Sunflower oil, fob ARAG","m":24.9,"v":1070},{"s":"Sunflower oil, fob ARAG","m":25.2,"v":1060},{"s":"Sunflower oil, fob ARAG","m":25.5,"v":1090},{"s":"Sunflower oil, fob ARAG","m":25.8,"v":1080},{"s":"Sunflower oil, fob ARAG","m":26.1,"v":1040},{"s":"Sunflower oil, fob ARAG","m":26.4,"v":1060},{"s":"Sunflower oil, fob ARAG","m":26.7,"v":1040},{"s":"Sunflower oil, fob ARAG","m":27,"v":1010},{"s":"Sunflower oil, fob ARAG","m":27.3,"v":1040},{"s":"Sunflower oil, fob ARAG","m":27.6,"v":1050},{"s":"Sunflower oil, fob ARAG","m":27.9,"v":1080},{"s":"Sunflower oil, fob ARAG","m":28.2,"v":1060},{"s":"Sunflower oil, fob ARAG","m":28.5,"v":1100},{"s":"Sunflower oil, fob ARAG","m":28.8,"v":1120},{"s":"Sunflower oil, fob ARAG","m":29.1,"v":1120},{"s":"Sunflower oil, fob ARAG","m":29.4,"v":1100},{"s":"Sunflower oil, fob ARAG","m":29.7,"v":1140},{"s":"Sunflower oil, fob ARAG","m":30,"v":1160},{"s":"Sunflower oil, fob ARAG","m":30.3,"v":1190},{"s":"Sunflower oil, fob ARAG","m":30.6,"v":1180},{"s":"Sunflower oil, fob ARAG","m":30.9,"v":1220},{"s":"Sunflower oil, fob ARAG","m":31.2,"v":1200},{"s":"Sunflower oil, fob ARAG","m":31.5,"v":1170},{"s":"Sunflower oil, fob ARAG","m":31.8,"v":1180},{"s":"Sunflower oil, fob ARAG","m":32.1,"v":1190},{"s":"Sunflower oil, fob ARAG","m":32.4,"v":1180},{"s":"Sunflower oil, fob ARAG","m":32.7,"v":1240},{"s":"Sunflower oil, fob ARAG","m":33,"v":1230},{"s":"Sunflower oil, fob ARAG","m":33.2,"v":1180},{"s":"Sunflower oil, fob ARAG","m":33.5,"v":1340},{"s":"Sunflower oil, fob ARAG","m":33.7,"v":1320},{"s":"Sunflower oil, fob ARAG","m":33.9,"v":1250},{"s":"Sunflower oil, fob ARAG","m":34.2,"v":1240},{"s":"Sunflower oil, fob ARAG","m":34.5,"v":1240},{"s":"Sunflower oil, fob ARAG","m":34.8,"v":1250},{"s":"Sunflower oil, fob ARAG","m":35,"v":1240},{"s":"Sunflower oil, fob ARAG","m":35.3,"v":1290},{"s":"Sunflower oil, fob ARAG","m":35.6,"v":1270},{"s":"Sunflower oil, fob ARAG","m":35.8,"v":1250},{"s":"Sunflower oil, fob ARAG","m":36,"v":1300},{"s":"Sunflower oil, fob ARAG","m":36.3,"v":1290},{"s":"Sunflower oil, fob ARAG","m":36.5,"v":1260},{"s":"Sunflower oil, fob ARAG","m":36.7,"v":1276}
    ]
  },
  "layer": [
    {
      "data": {"values": [{"x1": -3.75, "x2": 39.45, "y": 1817}, {"x1": -3.75, "x2": 39.45, "y": 369}]},
      "mark": {"type": "rule", "color": "#000000", "strokeWidth": 2.5},
      "encoding": {
        "x": {"field": "x1", "type": "quantitative"},
        "x2": {"field": "x2"},
        "y": {"field": "y", "type": "quantitative"}
      }
    },
    {
      "data": {"name": "prices"},
      "mark": {"type": "line", "strokeWidth": 9, "strokeJoin": "round", "strokeCap": "round"},
      "encoding": {
        "x": {
          "field": "m", "type": "quantitative",
          "scale": {"domain": [0, 36.7], "nice": false, "zero": false},
          "axis": {
            "title": null, "values": [0, 4, 8, 12, 16, 20, 24, 28, 32, 36],
            "labelExpr": "['Apr 23','Aug 23','Dec 23','Apr 24','Aug 24','Dec 24','Apr 25','Aug 25','Dec 25','Apr 26'][round(datum.value / 4)]",
            "labelFlush": false, "labelOverlap": false, "labelBound": false,
            "grid": false, "domainColor": "#8c8c8c", "domainWidth": 2.5,
            "tickColor": "#8c8c8c", "tickWidth": 2.5, "tickSize": 13, "labelPadding": 28
          }
        },
        "y": {
          "field": "v", "type": "quantitative",
          "scale": {"domain": [500, 1750], "nice": false, "zero": false},
          "axis": {
            "title": null, "values": [500, 750, 1000, 1250, 1500, 1750],
            "labelExpr": "replace(format(datum.value, ','), ',', '.')",
            "domain": false, "ticks": false, "labelPadding": 40,
            "gridColor": "#d9d9d9", "gridWidth": 2.5
          }
        },
        "color": {
          "field": "s", "type": "nominal",
          "scale": {
            "domain": ["Rapeseed oil, fob Germany", "Palm oil, cif Rotterdam", "Soybean oil, fob Germany", "Sunflower oil, fob ARAG"],
            "range": ["#8fbf4d", "#15285a", "#c8102e", "#fbbb10"]
          },
          "legend": {
            "title": null, "orient": "none", "legendX": 227, "legendY": 8,
            "direction": "horizontal", "columns": 2, "columnPadding": 330, "rowPadding": 26,
            "symbolType": "stroke", "symbolSize": 6500, "symbolStrokeWidth": 9,
            "labelFontSize": 37, "labelFont": "Open Sans", "labelColor": "#1a1a1a",
            "labelOffset": 0, "labelLimit": 700
          }
        }
      }
    },
    {
      "data": {"name": "prices"},
      "transform": [{"filter": "datum.m == 36.7 && datum.s == 'Palm oil, cif Rotterdam'"}],
      "mark": {"type": "text", "fontSize": 42, "fontWeight": "bold", "color": "#15285a", "align": "center", "dy": -54},
      "encoding": {"x": {"field": "m", "type": "quantitative"}, "y": {"field": "v", "type": "quantitative"}, "text": {"field": "v", "format": ","}}
    },
    {
      "data": {"name": "prices"},
      "transform": [{"filter": "datum.m == 36.7 && datum.s == 'Sunflower oil, fob ARAG'"}],
      "mark": {"type": "text", "fontSize": 42, "fontWeight": "bold", "color": "#fbbb10", "align": "left", "dx": 6, "dy": -2},
      "encoding": {"x": {"field": "m", "type": "quantitative"}, "y": {"field": "v", "type": "quantitative"}, "text": {"field": "v", "format": ","}}
    },
    {
      "data": {"name": "prices"},
      "transform": [{"filter": "datum.m == 36.7 && datum.s == 'Rapeseed oil, fob Germany'"}],
      "mark": {"type": "text", "fontSize": 42, "fontWeight": "bold", "color": "#8fbf4d", "align": "left", "dx": 6, "dy": 2},
      "encoding": {"x": {"field": "m", "type": "quantitative"}, "y": {"field": "v", "type": "quantitative"}, "text": {"field": "v", "format": ","}}
    },
    {
      "data": {"name": "prices"},
      "transform": [{"filter": "datum.m == 36.7 && datum.s == 'Soybean oil, fob Germany'"}],
      "mark": {"type": "text", "fontSize": 42, "fontWeight": "bold", "color": "#c8102e", "align": "center", "dy": 62},
      "encoding": {"x": {"field": "m", "type": "quantitative"}, "y": {"field": "v", "type": "quantitative"}, "text": {"field": "v", "format": ","}}
    },
    {
      "data": {"values": [
        {"t": "Source: AMI", "x": -1.68, "y": 302, "a": "left"},
        {"t": "Note: ARAG = Antwerp, Rotterdam, Amsterdam, Ghent", "x": 39.17, "y": 302, "a": "right"}
      ]},
      "layer": [
        {
          "transform": [{"filter": "datum.a == 'left'"}],
          "mark": {"type": "text", "fontSize": 34, "color": "#1a1a1a", "align": "left"},
          "encoding": {"x": {"field": "x", "type": "quantitative"}, "y": {"field": "y", "type": "quantitative"}, "text": {"field": "t"}}
        },
        {
          "transform": [{"filter": "datum.a == 'right'"}],
          "mark": {"type": "text", "fontSize": 34, "color": "#1a1a1a", "align": "right"},
          "encoding": {"x": {"field": "x", "type": "quantitative"}, "y": {"field": "y", "type": "quantitative"}, "text": {"field": "t"}}
        }
      ]
    }
  ]
}
